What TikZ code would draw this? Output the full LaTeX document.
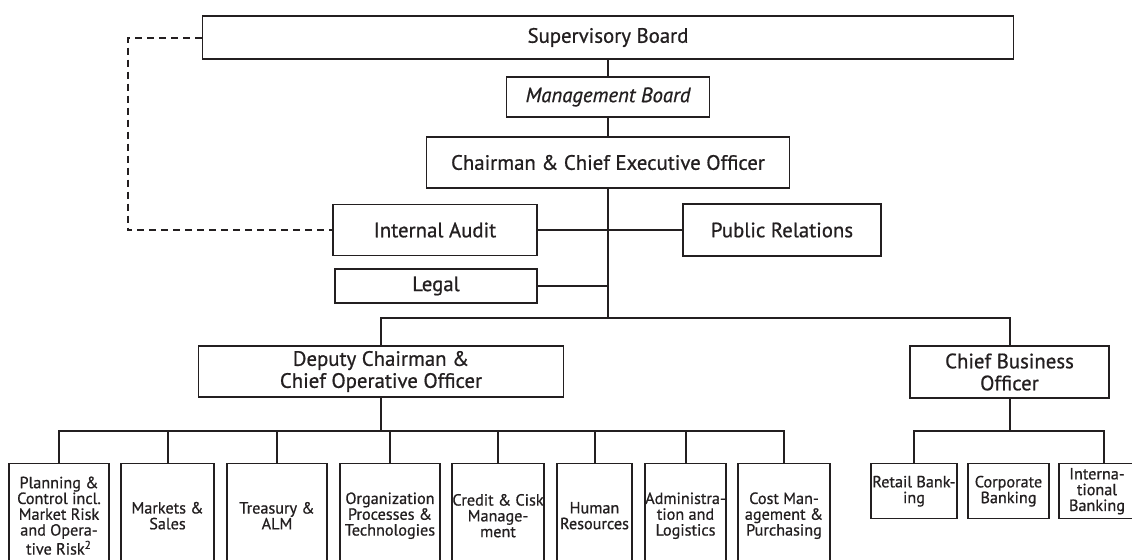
\documentclass[tikz,border=0pt]{standalone}
\usepackage{fontspec}
\setmainfont{PT Sans}[FakeBold=0.7]
\usetikzlibrary{positioning}
\definecolor{ink}{HTML}{231F20}

\begin{document}
\begin{tikzpicture}[x=0.5pt, y=-0.5pt,
    unit/.style={rectangle, draw=ink, line width=0.7pt, fill=white, inner sep=0pt, align=center, text=ink, font=\fontsize{10.4}{11}\selectfont},
    dept/.style={unit, anchor=north, minimum height=52pt, font=\fontsize{8.1}{7.9}\selectfont},
    branch/.style={unit, anchor=north, minimum height=27.5pt, font=\fontsize{8.1}{7.9}\selectfont},
    link/.style={draw=ink, line width=1pt},
    dashlink/.style={link, dash pattern=on 3.5pt off 2.5pt}
]
    \useasboundingbox (0,0) rectangle (1132,559);
    \clip (0,0) rectangle (1132,559);

    % Boards and CEO
    \node[unit, minimum width=405.5pt, minimum height=21.5pt] (sup) at (608,37.5) {Supervisory Board};
    \node[unit, minimum width=101.5pt, minimum height=20pt, font=\fontsize{10.4}{11}\selectfont\itshape] (mgmt) at (608,97) {Management Board};
    \node[unit, minimum width=181.5pt, minimum height=25.5pt] (ceo) at (608,162.5) {Chairman \& Chief Executive Officer};

    % Staff units
    \node[unit, minimum width=102pt, minimum height=25.5pt] (audit) at (435,230) {Internal Audit};
    \node[unit, minimum width=99pt, minimum height=26pt] (pr) at (782,230) {Public Relations};
    \node[unit, minimum width=101pt, minimum height=17pt] (legal) at (436,286) {Legal};

    % Second level
    \node[unit, minimum width=182.5pt, minimum height=25.5pt] (deputy) at (381,371.5) {Deputy Chairman \&\\Chief Operative Officer};
    \node[unit, minimum width=99.5pt, minimum height=26pt] (cbo) at (1009.5,372) {Chief Business\\Officer};

    % Divisions under the Deputy Chairman
    \node[dept, minimum width=50pt] (plan) at (59,463) {Planning \&\\Control incl.\\Market Risk\\and Opera-\\tive Risk\textsuperscript{2}};
    \node[dept, minimum width=46.5pt] (sales) at (167.5,463) {Markets \&\\Sales};
    \node[dept, minimum width=50pt] (treasury) at (277,463) {Treasury \&\\ALM};
    \node[dept, minimum width=50pt] (orga) at (390,463) {Organization\\Processes \&\\Technologies};
    \node[dept, minimum width=46pt] (credit) at (498,463) {Credit \& Cisk\\Manage-\\ment};
    \node[dept, minimum width=37.5pt] (hr) at (594.5,463) {Human\\Resources};
    \node[dept, minimum width=40.5pt] (admin) at (685.5,463) {Administra-\\tion and\\Logistics};
    \node[dept, minimum width=46pt] (cost) at (784,463) {Cost Man-\\agement \&\\Purchasing};

    % Divisions under the Chief Business Officer
    \node[branch, minimum width=43pt] (retail) at (914,463) {Retail Bank-\\ing};
    \node[branch, minimum width=40.5pt] (corp) at (1008.5,463) {Corporate\\Banking};
    \node[branch, minimum width=38pt] (intl) at (1097,463) {Interna-\\tional\\Banking};

    % Reporting lines
    \coordinate (hub) at (608,318);
    \coordinate (dbus) at (381,431);
    \coordinate (cbus) at (1009.5,431);
    \draw[link] (sup) -- (mgmt);
    \draw[link] (mgmt) -- (ceo);
    \draw[link] (ceo) -- (hub);
    \draw[link] (audit.east) -- (pr.west);
    \draw[link] (legal.east) -- (legal.east -| hub);
    \draw[link] (deputy.north) -- (deputy.north |- hub) -- (cbo.north |- hub) -- (cbo.north);
    \draw[dashlink] (sup.west) -- ++(-74,0) |- (audit.west);

    \draw[link] (deputy) -- (dbus);
    \draw[link] (plan.north) -- (plan.north |- dbus) -- (cost.north |- dbus) -- (cost.north);
    \draw[link] (sales.north |- dbus) -- (sales.north);
    \draw[link] (treasury.north |- dbus) -- (treasury.north);
    \draw[link] (orga.north |- dbus) -- (orga.north);
    \draw[link] (credit.north |- dbus) -- (credit.north);
    \draw[link] (hr.north |- dbus) -- (hr.north);
    \draw[link] (admin.north |- dbus) -- (admin.north);

    \draw[link] (cbo) -- (cbus);
    \draw[link] (retail.north) -- (retail.north |- cbus) -- ([xshift=3.5pt]intl.north |- cbus) -- ([xshift=3.5pt]intl.north);
\end{tikzpicture}
\end{document}
